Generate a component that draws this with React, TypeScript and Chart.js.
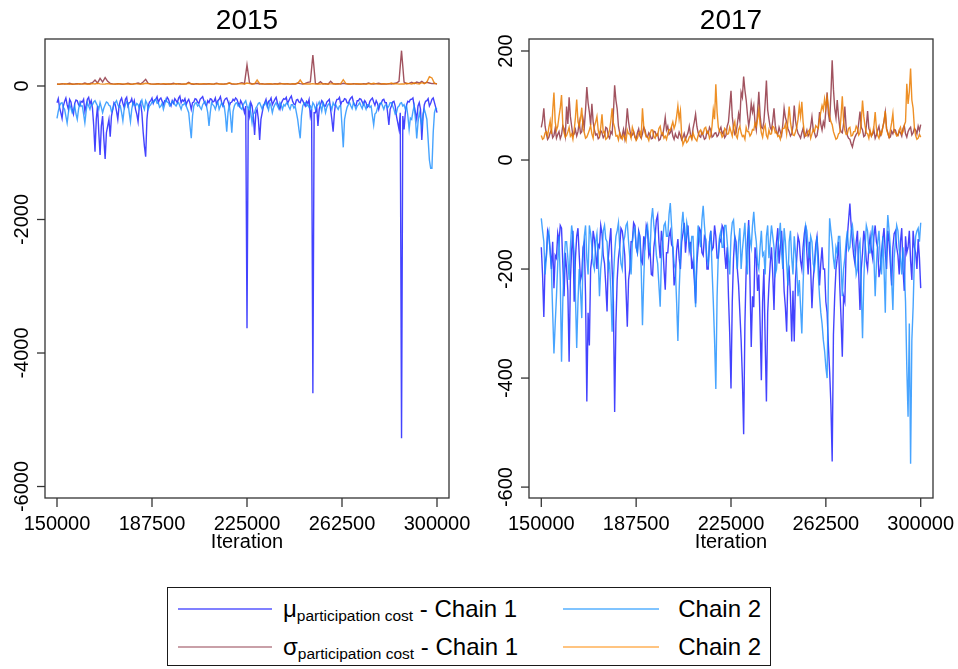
import React, { useEffect, useRef } from 'react';
import { Chart, registerables } from 'chart.js';

Chart.register(...registerables);

// Retained draws start at iteration 150000; the μ traces and all of 2017 keep
// every 500th iteration, the 2015 σ traces every 1000th
const START_ITER = 150000;
const THIN_FINE = 500;
const THIN_COARSE = 1000;

const X_TICKS = [150000, 187500, 225000, 262500, 300000];
const Y_TICKS_2015 = [0, -2000, -4000, -6000];
const Y_TICKS_2017 = [200, 0, -200, -400, -600];

// ---- 2015 ----
const MU_2015_CHAIN1 = [
  -250, -190, -320, -400, -485, -300, -230, -180, -280, -350, -200, -240, -350, -420, -260, -210, -220, -280, -300, -230,
  -240, -200, -380, -290, -200, -170, -270, -220, -330, -600, -984, -500, -300, -700, -1034, -600, -450, -800, -1094, -700,
  -600, -500, -759, -450, -350, -250, -280, -380, -500, -300, -220, -180, -260, -320, -200, -170, -300, -250, -240, -190,
  -280, -220, -350, -420, -534, -300, -250, -400, -684, -900, -1059, -500, -300, -240, -220, -180, -260, -210, -200, -160,
  -250, -200, -180, -230, -280, -220, -230, -170, -200, -260, -300, -220, -260, -190, -220, -250, -180, -150, -250, -210,
  -230, -190, -280, -230, -200, -260, -350, -250, -240, -190, -200, -240, -260, -200, -180, -160, -220, -270, -300, -220,
  -250, -190, -200, -240, -230, -180, -280, -220, -200, -160, -250, -300, -220, -190, -180, -230, -300, -250, -240, -200,
  -220, -180, -200, -250, -300, -220, -260, -320, -400, -300, -3630, -350, -450, -250, -300, -450, -734, -400, -350, -500,
  -809, -500, -400, -300, -250, -200, -300, -230, -220, -180, -280, -240, -200, -170, -250, -300, -350, -260, -220, -190,
  -200, -170, -260, -220, -180, -150, -230, -270, -280, -210, -200, -240, -250, -190, -220, -260, -300, -230, -260, -200,
  -450, -350, -4604, -400, -400, -300, -600, -350, -280, -220, -250, -300, -300, -240, -220, -200, -350, -500, -684, -400,
  -250, -200, -200, -170, -280, -230, -230, -190, -200, -250, -260, -210, -180, -160, -240, -290, -300, -220, -220, -190,
  -200, -240, -280, -220, -250, -320, -300, -230, -200, -180, -240, -290, -220, -260, -350, -270, -260, -210, -200, -250,
  -250, -400, -584, -350, -300, -240, -230, -300, -450, -550, -650, -400, -5278, -450, -650, -400, -280, -230, -240, -200,
  -200, -180, -300, -400, -500, -300, -250, -350, -809, -450, -280, -230, -220, -190, -300, -260, -200, -180, -250, -320,
  -400,
];
const MU_2015_CHAIN2 = [
  -485, -380, -300, -260, -250, -320, -350, -450, -554, -400, -280, -330, -400, -360, -300, -420, -500, -350, -250, -300,
  -300, -420, -550, -380, -250, -300, -350, -280, -280, -240, -220, -260, -300, -350, -250, -320, -400, -330, -280, -240,
  -250, -290, -300, -380, -350, -280, -250, -220, -280, -320, -300, -400, -520, -350, -280, -240, -250, -400, -534, -350,
  -250, -280, -300, -260, -280, -330, -250, -210, -300, -350, -220, -260, -350, -300, -280, -240, -250, -220, -200, -260,
  -250, -320, -300, -260, -350, -280, -200, -240, -250, -300, -280, -230, -230, -280, -300, -260, -250, -300, -350, -280,
  -280, -250, -300, -350, -400, -600, -783, -450, -300, -260, -250, -300, -280, -320, -350, -280, -250, -230, -300, -400,
  -599, -400, -250, -280, -300, -350, -280, -240, -350, -300, -250, -300, -300, -450, -684, -400, -280, -450, -699, -380,
  -300, -260, -250, -300, -280, -330, -350, -280, -250, -220, -300, -350, -280, -400, -550, -420, -400, -330, -300, -260,
  -250, -300, -350, -280, -280, -240, -300, -360, -250, -300, -400, -320, -280, -250, -300, -340, -250, -290, -350, -280,
  -300, -260, -250, -310, -350, -280, -280, -330, -300, -400, -500, -650, -784, -450, -300, -260, -250, -300, -280, -320,
  -300, -350, -250, -280, -350, -300, -280, -240, -300, -380, -250, -300, -400, -320, -280, -260, -300, -350, -250, -290,
  -280, -320, -350, -300, -300, -600, -919, -500, -400, -320, -280, -250, -300, -340, -250, -290, -350, -300, -280, -250,
  -300, -340, -250, -300, -350, -280, -280, -320, -300, -450, -584, -420, -400, -330, -300, -260, -250, -300, -350, -290,
  -280, -330, -300, -250, -250, -300, -350, -420, -400, -320, -300, -260, -250, -300, -280, -350, -300, -450, -650, -480,
  -500, -380, -300, -500, -784, -550, -400, -480, -600, -420, -350, -420, -500, -800, -1109, -1233, -1233, -700, -400, -330,
  -350,
];
const SIGMA_2015_CHAIN1 = [
  30, 25, 35, 28, 32, 40, 26, 30, 35, 28,
  32, 45, 30, 38, 50, 90, 45, 115, 60, 125,
  70, 40, 32, 28, 35, 30, 26, 32, 40, 30,
  28, 35, 45, 30, 60, 100, 40, 32, 28, 30,
  35, 28, 30, 26, 32, 30, 40, 28, 35, 30,
  28, 32, 55, 30, 26, 35, 30, 28, 32, 30,
  35, 28, 30, 40, 32, 28, 30, 35, 45, 30,
  28, 32, 40, 50, 35, 315, 45, 30, 35, 40,
  30, 35, 28, 30, 32, 28, 35, 30, 40, 32,
  30, 35, 28, 32, 30, 45, 35, 30, 40, 55,
  60, 464, 40, 32, 65, 30, 35, 28, 70, 32,
  30, 35, 28, 40, 32, 30, 28, 35, 30, 32,
  28, 35, 30, 45, 32, 28, 35, 40, 30, 32,
  28, 35, 30, 40, 45, 70, 529, 60, 35, 40,
  55, 35, 60, 45, 70, 40, 55, 45, 35, 40,
  30,
];
const SIGMA_2015_CHAIN2 = [
  25, 30, 28, 35, 30, 26, 32, 28, 30, 35,
  28, 32, 30, 26, 35, 30, 40, 32, 28, 30,
  35, 30, 28, 32, 30, 35, 28, 30, 32, 26,
  30, 35, 28, 32, 30, 40, 35, 30, 28, 32,
  30, 28, 35, 30, 32, 28, 30, 35, 30, 28,
  32, 30, 40, 35, 30, 28, 32, 30, 35, 28,
  30, 32, 28, 35, 30, 32, 28, 30, 45, 35,
  30, 28, 35, 32, 30, 45, 35, 30, 32, 90,
  35, 30, 28, 32, 35, 30, 28, 32, 30, 35,
  32, 30, 28, 35, 30, 40, 90, 35, 30, 32,
  30, 35, 28, 32, 30, 35, 28, 30, 32, 35,
  30, 28, 35, 95, 40, 30, 32, 28, 35, 30,
  32, 28, 30, 35, 30, 40, 32, 28, 30, 35,
  30, 32, 45, 30, 35, 28, 32, 30, 40, 35,
  30, 45, 35, 30, 50, 35, 60, 140, 120, 40,
  35,
];

// ---- 2017 ----
const MU_2017_CHAIN1 = [
  -160, -210, -288, -190, -175, -130, -140, -165, -200, -150, -235, -175, -180, -135, -150, -120, -125, -190, -250, -170,
  -200, -240, -370, -220, -165, -130, -260, -180, -140, -125, -175, -220, -210, -160, -150, -250, -443, -280, -340, -200,
  -180, -130, -145, -170, -200, -155, -160, -120, -135, -175, -190, -230, -278, -180, -150, -125, -200, -260, -462, -300,
  -220, -180, -160, -125, -130, -150, -175, -240, -306, -220, -200, -150, -150, -115, -120, -160, -170, -130, -140, -185,
  -190, -140, -155, -120, -130, -175, -165, -210, -212, -160, -140, -110, -101, -150, -180, -130, -150, -200, -238, -170,
  -170, -140, -130, -155, -160, -230, -215, -165, -145, -180, -200, -150, -135, -115, -170, -140, -120, -165, -150, -200,
  -185, -220, -263, -190, -160, -125, -130, -170, -175, -140, -145, -200, -200, -150, -130, -165, -160, -120, -140, -180,
  -180, -145, -150, -120, -125, -170, -200, -160, -250, -320, -419, -260, -180, -140, -150, -200, -230, -280, -330, -400,
  -503, -300, -200, -150, -110, -220, -343, -250, -270, -160, -180, -240, -210, -300, -404, -260, -200, -330, -443, -280,
  -230, -190, -160, -210, -275, -180, -150, -125, -190, -160, -130, -175, -240, -270, -315, -210, -200, -250, -333, -240,
  -333, -220, -180, -140, -150, -185, -200, -160, -135, -120, -170, -210, -150, -200, -272, -220, -190, -155, -140, -175,
  -230, -190, -160, -200, -200, -260, -280, -340, -388, -450, -553, -320, -250, -200, -180, -150, -230, -290, -361, -250,
  -260, -170, -140, -110, -80, -120, -150, -175, -190, -150, -130, -210, -275, -200, -170, -130, -150, -185, -200, -160,
  -140, -165, -180, -140, -120, -150, -160, -215, -200, -170, -145, -125, -170, -200, -130, -150, -190, -230, -160, -135,
  -130, -160, -175, -210, -150, -125, -200, -240, -140, -170, -160, -130, -185, -220, -130, -160, -170, -200, -145, -180,
  -235,
];
const MU_2017_CHAIN2 = [
  -107, -130, -150, -210, -180, -140, -130, -170, -200, -280, -355, -300, -250, -190, -140, -220, -370, -260, -190, -150,
  -150, -180, -220, -160, -120, -140, -170, -250, -345, -260, -200, -240, -290, -180, -140, -120, -180, -210, -120, -135,
  -160, -190, -200, -150, -135, -180, -250, -200, -175, -130, -120, -145, -150, -200, -190, -240, -315, -220, -170, -140,
  -130, -115, -160, -190, -200, -150, -140, -120, -115, -150, -180, -210, -150, -130, -125, -160, -170, -135, -145, -200,
  -303, -220, -150, -130, -120, -150, -170, -110, -88, -120, -140, -175, -190, -230, -269, -180, -150, -120, -115, -140,
  -140, -100, -79, -120, -160, -190, -200, -260, -332, -240, -180, -120, -95, -130, -150, -115, -130, -160, -170, -140,
  -140, -200, -270, -170, -120, -145, -160, -110, -84, -120, -150, -180, -190, -150, -130, -200, -260, -330, -420, -250,
  -170, -140, -130, -160, -160, -120, -120, -150, -180, -210, -140, -115, -110, -145, -170, -200, -150, -125, -200, -165,
  -140, -115, -180, -210, -120, -145, -160, -120, -95, -130, -150, -190, -200, -160, -130, -175, -170, -210, -140, -120,
  -180, -150, -120, -140, -160, -210, -200, -160, -140, -115, -170, -200, -125, -150, -190, -230, -150, -130, -180, -210,
  -140, -170, -200, -250, -220, -270, -318, -230, -160, -120, -130, -160, -180, -140, -150, -190, -200, -170, -140, -210,
  -250, -280, -300, -330, -350, -380, -400, -220, -107, -130, -150, -180, -200, -160, -170, -140, -140, -190, -250, -200,
  -180, -150, -130, -165, -160, -130, -120, -145, -170, -210, -200, -160, -150, -240, -327, -220, -160, -120, -130, -170,
  -170, -140, -120, -180, -250, -190, -150, -130, -180, -210, -140, -200, -280, -150, -101, -130, -160, -220, -275, -180,
  -150, -120, -130, -165, -180, -210, -160, -200, -260, -380, -471, -300, -557, -330, -270, -180, -140, -130, -125, -150,
  -115,
];
const SIGMA_2017_CHAIN1 = [
  60, 72, 95, 62, 48, 38, 42, 50, 55, 41, 45, 58, 40, 47, 52, 39, 46, 63, 58, 44,
  98, 66, 115, 80, 62, 45, 48, 56, 44, 52, 70, 49, 52, 75, 60, 92, 134, 105, 88, 64,
  103, 70, 55, 46, 48, 39, 42, 54, 50, 41, 45, 60, 58, 44, 40, 52, 48, 85, 137, 110,
  94, 62, 50, 41, 45, 56, 40, 62, 95, 70, 55, 43, 46, 52, 42, 38, 50, 57, 44, 40,
  48, 60, 55, 44, 42, 50, 46, 39, 40, 53, 52, 45, 48, 36, 38, 47, 45, 60, 78, 55,
  62, 47, 50, 58, 44, 38, 48, 42, 40, 51, 45, 37, 42, 49, 38, 44, 50, 62, 46, 40,
  58, 70, 84, 62, 50, 44, 42, 51, 45, 38, 40, 53, 48, 60, 55, 42, 44, 49, 50, 43,
  46, 55, 60, 48, 52, 41, 45, 62, 70, 98, 127, 80, 58, 47, 50, 66, 85, 72, 124, 115,
  153, 128, 110, 84, 62, 78, 104, 88, 100, 68, 55, 90, 125, 82, 60, 58, 70, 104, 146, 92,
  75, 60, 55, 72, 95, 64, 50, 47, 60, 52, 45, 66, 95, 78, 70, 58, 52, 44, 48, 62,
  100, 72, 58, 49, 45, 40, 50, 58, 42, 47, 55, 44, 48, 62, 79, 56, 50, 42, 45, 60,
  88, 66, 55, 70, 62, 92, 124, 85, 70, 120, 183, 130, 95, 78, 110, 80, 60, 52, 50, 66,
  98, 62, 45, 40, 38, 30, 24, 35, 42, 47, 50, 68, 89, 60, 55, 43, 45, 62, 90, 58,
  52, 44, 48, 55, 40, 46, 55, 62, 45, 50, 60, 72, 88, 58, 50, 41, 42, 53, 48, 56,
  55, 47, 45, 53, 50, 44, 58, 63, 48, 42, 52, 57, 60, 46, 50, 58, 55, 48, 62, 54,
  65,
];
const SIGMA_2017_CHAIN2 = [
  45, 38, 40, 50, 52, 44, 60, 72, 48, 90, 124, 70, 55, 62, 80, 95, 119, 66, 50, 42,
  45, 52, 60, 44, 48, 38, 55, 78, 111, 70, 62, 75, 96, 58, 50, 40, 42, 48, 55, 63,
  48, 40, 62, 70, 80, 55, 45, 60, 84, 50, 52, 38, 40, 47, 55, 72, 95, 68, 60, 44,
  45, 37, 50, 42, 38, 46, 42, 35, 55, 48, 48, 40, 60, 52, 44, 36, 40, 49, 52, 43,
  95, 62, 50, 42, 42, 36, 48, 55, 55, 43, 40, 47, 45, 58, 62, 48, 50, 40, 44, 38,
  48, 56, 55, 62, 70, 58, 65, 80, 99, 75, 90, 45, 28, 34, 40, 32, 35, 42, 45, 38,
  50, 42, 38, 35, 45, 52, 55, 47, 48, 58, 60, 50, 52, 40, 45, 62, 92, 75, 139, 88,
  60, 52, 50, 42, 45, 58, 55, 47, 48, 60, 52, 44, 62, 70, 45, 40, 55, 62, 50, 43,
  45, 38, 60, 52, 52, 44, 48, 56, 55, 68, 62, 75, 92, 66, 50, 42, 58, 64, 45, 40,
  55, 47, 48, 62, 60, 50, 52, 43, 45, 38, 50, 58, 58, 66, 48, 72, 98, 70, 55, 46,
  45, 52, 60, 75, 99, 80, 107, 70, 50, 44, 45, 52, 55, 40, 48, 56, 52, 63, 60, 58,
  75, 88, 100, 92, 112, 96, 115, 98, 80, 70, 65, 52, 45, 38, 40, 48, 50, 80, 117, 72,
  55, 47, 48, 58, 60, 44, 45, 52, 52, 62, 58, 46, 50, 72, 109, 80, 62, 50, 48, 40,
  55, 44, 50, 62, 88, 58, 45, 40, 52, 47, 60, 70, 90, 56, 48, 42, 55, 68, 85, 52,
  50, 44, 45, 55, 60, 48, 52, 64, 70, 140, 103, 125, 168, 110, 95, 60, 45, 38, 40, 47,
  42,
];

const FONT = '"Liberation Sans", Arial, Helvetica, sans-serif';

const COLORS = {
  mu1: 'rgba(20, 20, 255, 0.8)',
  mu2: 'rgba(30, 144, 255, 0.82)',
  sigma1: 'rgba(135, 35, 50, 0.78)',
  sigma2: 'rgba(235, 125, 0, 0.85)',
};

const LEGEND_COLORS = {
  mu1: '#8080ff',
  mu2: '#80c4ff',
  sigma1: '#c9a0a8',
  sigma2: '#ffc480',
};

const CANVAS_W = 479;
const CANVAS_H = 560;

function toPoints(values: number[], thin: number) {
  return values.map((v, i) => ({ x: START_ITER + i * thin, y: v }));
}

// Draws the box, outside ticks, rotated y labels, x labels and the panel title
function framePlugin(title: string, yTicks: number[]) {
  return {
    id: 'traceFrame',
    afterDraw(chart: any) {
      const { ctx, chartArea: a, scales } = chart;
      const xs = scales.x;
      const ys = scales.y;
      ctx.save();
      ctx.strokeStyle = '#333333';
      ctx.lineWidth = 1.3;
      ctx.strokeRect(a.left, a.top, a.right - a.left, a.bottom - a.top);

      ctx.fillStyle = '#000';
      ctx.textAlign = 'center';
      ctx.textBaseline = 'middle';
      ctx.font = `20px ${FONT}`;
      for (const v of X_TICKS) {
        const px = xs.getPixelForValue(v);
        ctx.beginPath();
        ctx.moveTo(px, a.bottom);
        ctx.lineTo(px, a.bottom + 9);
        ctx.stroke();
        ctx.fillText(String(v), px, a.bottom + 26);
      }
      ctx.fillText('Iteration', (a.left + a.right) / 2, a.bottom + 44);

      for (const v of yTicks) {
        const py = ys.getPixelForValue(v);
        ctx.beginPath();
        ctx.moveTo(a.left - 8, py);
        ctx.lineTo(a.left, py);
        ctx.stroke();
        ctx.save();
        ctx.translate(a.left - 22.5, py);
        ctx.rotate(-Math.PI / 2);
        ctx.fillText(String(v), 0, 0);
        ctx.restore();
      }

      ctx.font = `28px ${FONT}`;
      ctx.fillText(title, (a.left + a.right) / 2, a.top - 18);
      ctx.restore();
    },
  };
}

type PanelProps = {
  title: string;
  left: number;
  muThin: number;
  sigmaThin: number;
  mu1: number[];
  mu2: number[];
  sigma1: number[];
  sigma2: number[];
  xMin: number;
  xMax: number;
  yMin: number;
  yMax: number;
  yTicks: number[];
  padding: { left: number; right: number; top: number; bottom: number };
};

function TracePanel(props: PanelProps) {
  const ref = useRef<HTMLCanvasElement>(null);
  useEffect(() => {
    const canvas = ref.current;
    if (!canvas) return;
    const line = (label: string, values: number[], thin: number, color: string, order: number) => ({
      label,
      data: toPoints(values, thin),
      borderColor: color,
      backgroundColor: color,
      borderWidth: 1.4,
      pointRadius: 0,
      tension: 0,
      fill: false,
      order,
    });
    const chart = new Chart(canvas, {
      type: 'line',
      data: {
        datasets: [
          line('μ chain 2', props.mu2, props.muThin, COLORS.mu2, 0),
          line('σ chain 2', props.sigma2, props.sigmaThin, COLORS.sigma2, 0),
          line('μ chain 1', props.mu1, props.muThin, COLORS.mu1, 1),
          line('σ chain 1', props.sigma1, props.sigmaThin, COLORS.sigma1, 1),
        ],
      },
      options: {
        animation: false,
        responsive: false,
        events: [],
        layout: { padding: props.padding },
        plugins: {
          legend: { display: false },
          tooltip: { enabled: false },
        },
        scales: {
          x: { type: 'linear', min: props.xMin, max: props.xMax, display: false },
          y: { type: 'linear', min: props.yMin, max: props.yMax, display: false },
        },
      },
      plugins: [framePlugin(props.title, props.yTicks)],
    } as any);
    return () => chart.destroy();
  }, []);
  return (
    <canvas
      ref={ref}
      width={CANVAS_W}
      height={CANVAS_H}
      style={{ position: 'absolute', left: props.left, top: 0, width: CANVAS_W, height: CANVAS_H }}
    />
  );
}

function LegendLine({
  top,
  color,
  lineLeft,
  lineWidth,
}: {
  top: number;
  color: string;
  lineLeft: number;
  lineWidth: number;
}) {
  return (
    <div
      style={{
        position: 'absolute',
        left: lineLeft,
        top: top - 1,
        width: lineWidth,
        height: 2,
        background: color,
      }}
    />
  );
}

function Legend() {
  const textStyle: React.CSSProperties = {
    position: 'absolute',
    whiteSpace: 'nowrap',
    fontSize: 24,
    lineHeight: '28px',
    height: 28,
    color: '#000',
  };
  const sub: React.CSSProperties = { fontSize: 15.5, position: 'relative', top: 4 };
  return (
    <div
      style={{
        position: 'absolute',
        left: 167,
        top: 587,
        width: 604,
        height: 79,
        boxSizing: 'border-box',
        border: '1.5px solid #1a1a1a',
        fontFamily: FONT,
      }}
    >
      <LegendLine top={21} color={LEGEND_COLORS.mu1} lineLeft={10} lineWidth={94} />
      <div style={{ ...textStyle, left: 115, top: 7 }}>
        μ<span style={sub}>participation cost</span> - Chain 1
      </div>
      <LegendLine top={21} color={LEGEND_COLORS.mu2} lineLeft={395} lineWidth={96} />
      <div style={{ ...textStyle, right: 9, top: 7 }}>Chain 2</div>

      <LegendLine top={59} color={LEGEND_COLORS.sigma1} lineLeft={10} lineWidth={94} />
      <div style={{ ...textStyle, left: 115, top: 45 }}>
        σ<span style={sub}>participation cost</span> - Chain 1
      </div>
      <LegendLine top={59} color={LEGEND_COLORS.sigma2} lineLeft={395} lineWidth={96} />
      <div style={{ ...textStyle, right: 9, top: 45 }}>Chain 2</div>
    </div>
  );
}

export default function App() {
  return (
    <div
      style={{
        position: 'fixed',
        left: 0,
        top: 0,
        width: 958,
        height: 669,
        background: '#fff',
        overflow: 'hidden',
        fontFamily: FONT,
      }}
    >
      <TracePanel
        title="2015"
        left={0}
        muThin={THIN_FINE}
        sigmaThin={THIN_COARSE}
        mu1={MU_2015_CHAIN1}
        mu2={MU_2015_CHAIN2}
        sigma1={SIGMA_2015_CHAIN1}
        sigma2={SIGMA_2015_CHAIN2}
        xMin={145263}
        xMax={304737}
        yMin={-6172}
        yMax={704}
        yTicks={Y_TICKS_2015}
        padding={{ left: 45, right: 30, top: 39, bottom: 62 }}
      />
      <TracePanel
        title="2017"
        left={479}
        muThin={THIN_FINE}
        sigmaThin={THIN_FINE}
        mu1={MU_2017_CHAIN1}
        mu2={MU_2017_CHAIN2}
        sigma1={SIGMA_2017_CHAIN1}
        sigma2={SIGMA_2017_CHAIN2}
        xMin={145140}
        xMax={304860}
        yMin={-620}
        yMax={222}
        yTicks={Y_TICKS_2017}
        padding={{ left: 50, right: 25, top: 39, bottom: 62 }}
      />
      <Legend />
    </div>
  );
}
